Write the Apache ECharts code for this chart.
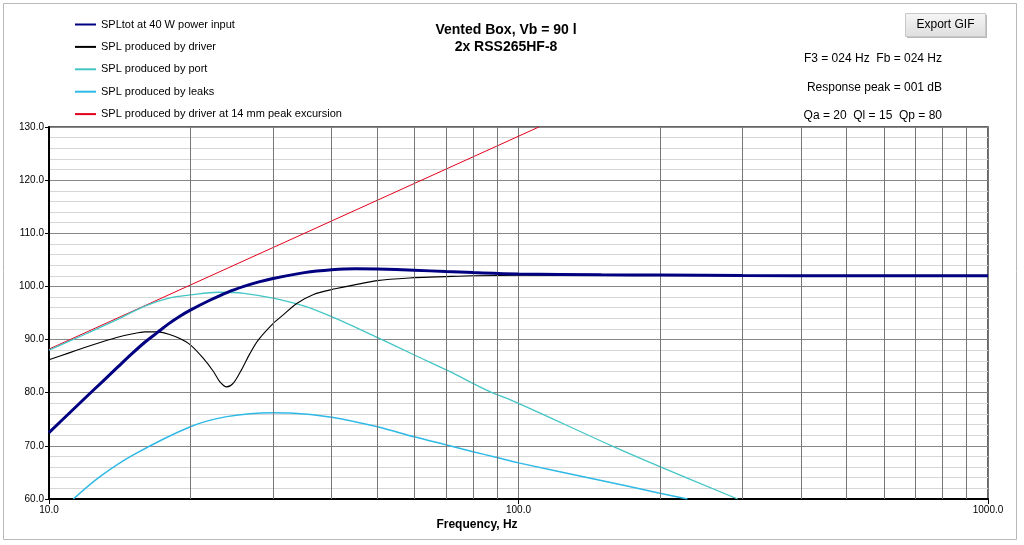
<!DOCTYPE html>
<html>
<head>
<meta charset="utf-8">
<script src="https://cdn.jsdelivr.net/npm/echarts@6/dist/echarts.min.js"></script>
<style>
html,body{margin:0;padding:0;background:#fff;}
#c{width:1024px;height:545px;}
</style>
</head>
<body>
<div id="c"></div>
<script>
// ---- data ----
const totFreq = [10, 11, 12, 13, 14, 15, 16, 17, 18, 19, 20, 22, 24, 26, 28, 30, 35, 40, 45, 50, 60, 70, 80, 100, 150, 200, 300, 500, 1000];
const totSpl  = [72.5, 76.0, 79.2, 82.1, 84.8, 87.3, 89.5, 91.3, 93.0, 94.4, 95.55, 97.4, 98.9, 100.0, 100.85, 101.5, 102.6, 103.15, 103.35, 103.3, 103.05, 102.8, 102.6, 102.35, 102.2, 102.15, 102.05, 102.0, 102.0];

const drvFreq = [10, 11, 12, 13, 14, 15, 16, 17, 18, 19, 20, 21.3, 22.4, 23.1, 23.9, 24.7, 25.7, 26.8, 27.9, 30, 31.5, 33.7, 36.6, 40, 50, 60, 70, 80, 100, 200, 300, 1000];
const drvSpl  = [86.2, 87.45, 88.6, 89.6, 90.45, 91.05, 91.45, 91.45, 91.0, 90.2, 89.0, 86.5, 84.0, 82.1, 81.1, 81.8, 84.3, 87.4, 89.9, 93.0, 94.6, 96.8, 98.5, 99.4, 101.1, 101.65, 101.85, 102.0, 102.1, 102.1, 102.0, 102.0];

const portFreq = [10, 12, 14, 16, 18, 20, 23, 26, 30, 35, 40, 50, 60, 71.3, 85.5, 100, 158, 200, 293];
const portSpl  = [88.0, 91.1, 93.8, 96.3, 97.8, 98.4, 98.9, 98.7, 97.8, 96.3, 94.3, 90.4, 87.1, 84.0, 80.5, 78.0, 70.0, 66.1, 60.0];

const leakFreq = [11.27, 12.84, 15.12, 20, 23.9, 30, 32.6, 40, 50, 60, 70, 80, 90, 100, 150, 200, 229];
const leakSpl  = [60.0, 64.2, 68.3, 73.6, 75.5, 76.25, 76.2, 75.4, 73.6, 71.7, 70.2, 68.9, 67.8, 66.8, 63.5, 61.1, 60.0];

const xmaxFreq = [10, 110.5];
const xmaxSpl  = [88.2, 130.0];

const seriesNames = [
  'SPLtot at 40 W power input',
  'SPL produced by driver',
  'SPL produced by port',
  'SPL produced by leaks',
  'SPL produced by driver at 14 mm peak excursion'
];
const gridFreqs = [20, 30, 40, 50, 60, 70, 80, 90, 200, 300, 400, 500, 600, 700, 800, 900];
const titleLines = ['Vented Box, Vb = 90 l', '2x RSS265HF-8'];
const infoLines = ['F3 = 024 Hz  Fb = 024 Hz', 'Response peak = 001 dB', 'Qa = 20  Ql = 15  Qp = 80'];

const FONT = '"Liberation Sans", Arial, sans-serif';
const pairs = (xs, ys) => xs.map((x, i) => [x, ys[i]]);

const chart = echarts.init(document.getElementById('c'), null, {renderer: 'canvas'});

function lineSeries(name, xs, ys, color, width, smooth, z) {
  return {
    name: name, type: 'line', data: pairs(xs, ys), symbol: 'none', showSymbol: false,
    smooth: smooth, clip: true, z: z,
    lineStyle: {color: color, width: width}, itemStyle: {color: color}
  };
}

chart.setOption({
  animation: false,
  backgroundColor: '#ffffff',
  textStyle: {fontFamily: FONT},
  grid: {left: 49, right: 36, top: 127, bottom: 46, containLabel: false, show: true, borderColor: '#333', borderWidth: 1.5, backgroundColor: 'transparent'},
  legend: {
    orient: 'vertical', left: 74, top: 17.5, padding: 0,
    itemWidth: 21, itemHeight: 14, itemGap: 8.4,
    data: seriesNames,
    itemStyle: {opacity: 0},
    textStyle: {fontSize: 11, color: '#000', fontFamily: FONT, lineHeight: 14, height: 14},
    selectedMode: false
  },
  xAxis: {
    type: 'log', logBase: 10, min: 10, max: 1000,
    axisLine: {show: true, lineStyle: {color: '#000', width: 2}},
    axisTick: {show: true, length: 5, lineStyle: {color: '#000', width: 1}},
    axisLabel: {fontSize: 10, color: '#000', margin: 6, fontFamily: FONT, formatter: v => Number(v).toFixed(1)},
    splitLine: {show: true, lineStyle: {color: '#777', width: 1}},
    minorTick: {show: false}, minorSplitLine: {show: false}
  },
  yAxis: {
    type: 'value', min: 60, max: 130, interval: 10,
    axisLine: {show: true, lineStyle: {color: '#000', width: 2}},
    axisTick: {show: true, length: 4, lineStyle: {color: '#000', width: 1}},
    axisLabel: {fontSize: 10, color: '#000', margin: 5, fontFamily: FONT, formatter: v => Number(v).toFixed(1)},
    splitLine: {show: true, lineStyle: {color: '#888', width: 1}},
    minorTick: {show: false, splitNumber: 5},
    minorSplitLine: {show: true, lineStyle: {color: '#d6d6d6', width: 1}}
  },
  series: [
    {
      name: 'grid', type: 'line', data: [], z: 1, silent: true,
      markLine: {
        silent: true, symbol: 'none', animation: false,
        label: {show: false},
        lineStyle: {color: '#777', width: 1, type: 'solid'},
        emphasis: {disabled: true},
        data: gridFreqs.map(f => ({xAxis: f}))
      }
    },
    lineSeries(seriesNames[4], xmaxFreq, xmaxSpl, '#e3001b', 1, false, 3),
    lineSeries(seriesNames[3], leakFreq, leakSpl, '#2fb9e6', 1.5, 0.35, 3),
    lineSeries(seriesNames[2], portFreq, portSpl, '#45c6c6', 1.3, 0.35, 3),
    lineSeries(seriesNames[1], drvFreq, drvSpl, '#000000', 1.1, 0.3, 4),
    lineSeries(seriesNames[0], totFreq, totSpl, '#000080', 3, 0.35, 5)
  ],
  graphic: [
    {type: 'rect', shape: {x: 3.5, y: 3.5, width: 1013, height: 536}, style: {fill: 'none', stroke: '#b8b8b8', lineWidth: 1}, silent: true, z: 0},
    {type: 'text', x: 506, y: 30, style: {text: titleLines[0], font: 'bold 14px ' + FONT, fill: '#000', textAlign: 'center', textVerticalAlign: 'middle'}},
    {type: 'text', x: 506, y: 47, style: {text: titleLines[1], font: 'bold 14px ' + FONT, fill: '#000', textAlign: 'center', textVerticalAlign: 'middle'}},
    {type: 'text', x: 942, y: 59, style: {text: infoLines[0], font: '12px ' + FONT, fill: '#000', textAlign: 'right', textVerticalAlign: 'middle'}},
    {type: 'text', x: 942, y: 88, style: {text: infoLines[1], font: '12px ' + FONT, fill: '#000', textAlign: 'right', textVerticalAlign: 'middle'}},
    {type: 'text', x: 942, y: 116, style: {text: infoLines[2], font: '12px ' + FONT, fill: '#000', textAlign: 'right', textVerticalAlign: 'middle'}},
    {type: 'rect', shape: {x: 907, y: 15, width: 80, height: 23}, style: {fill: '#b8b8b8'}, silent: true},
    {type: 'rect', shape: {x: 905.5, y: 13.5, width: 80, height: 23},
      style: {fill: new echarts.graphic.LinearGradient(0, 0, 0, 1, [{offset: 0, color: '#f6f6f6'}, {offset: 1, color: '#dedede'}]), stroke: '#c8c8c8', lineWidth: 1}, silent: true},
    {type: 'text', x: 945.5, y: 25, style: {text: 'Export GIF', font: '12px ' + FONT, fill: '#000', textAlign: 'center', textVerticalAlign: 'middle'}},
    {type: 'text', x: 477, y: 525, style: {text: 'Frequency, Hz', font: 'bold 12px ' + FONT, fill: '#000', textAlign: 'center', textVerticalAlign: 'middle'}}
  ]
});
</script>
</body>
</html>
